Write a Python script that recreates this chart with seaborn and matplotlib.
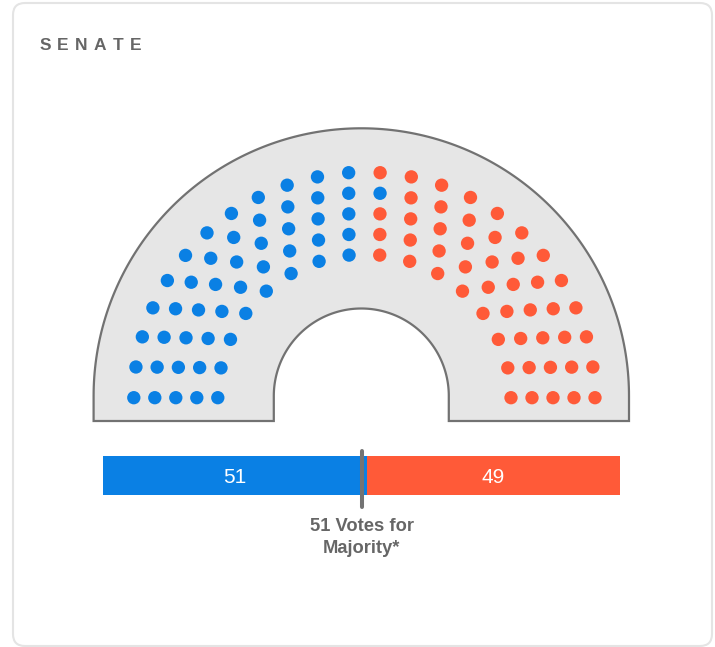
import numpy as np
import pandas as pd
import matplotlib
matplotlib.use('Agg')
import matplotlib.pyplot as plt
from matplotlib.path import Path
from matplotlib.patches import PathPatch, FancyBboxPatch
import seaborn as sns

# ---- data ----
title = 'SENATE'
parties = ['Democrats', 'Republicans']
seat_counts = [51, 49]
party_colors = ['#0a80e4', '#ff5a38']
row_sizes = [16, 18, 20, 22, 24]      # seats per arc row, inner -> outer
majority = 51
note_lines = [f'{majority} Votes for', 'Majority*']

sns.set_style('white')
plt.rcParams['font.family'] = ['Liberation Sans', 'DejaVu Sans']

W, H = 715, 647
fig = plt.figure(figsize=(W / 100, H / 100), dpi=100)
ax = fig.add_axes([0, 0, 1, 1])

# card frame
card = FancyBboxPatch((13, 3), 699, 643, boxstyle='round,pad=0,rounding_size=12',
                      fc='white', ec='#e4e4e4', lw=1.5, zorder=0)
ax.add_patch(card)

# hemicycle background
cx, cy, R_out, R_in, base = 361.3, 396, 267.7, 87.5, 421
t = np.linspace(np.pi, 0, 180)
outer = np.column_stack([cx + R_out * np.cos(t), cy - R_out * np.sin(t)])
inner = np.column_stack([cx + R_in * np.cos(t[::-1]), cy - R_in * np.sin(t[::-1])])
verts = ([(cx - R_out, base)] + outer.tolist() + [(cx + R_out, base), (cx + R_in, base)]
         + inner.tolist() + [(cx - R_in, base), (cx - R_out, base)])
ax.add_patch(PathPatch(Path(verts, closed=True), fc='#e6e6e6', ec='#727272',
                       lw=1.6, joinstyle='miter', zorder=1))

# seats: rows of arcs, filled left to right by angle
scx, scy, r0, dr, ky = 364.4, 397.7, 146.6, 21.0, 0.978
rows = []
for i, n in enumerate(row_sizes):
    r = r0 + dr * i
    for p in np.linspace(0, 180, n):
        rows.append((p, r))
df = pd.DataFrame(rows, columns=['phi', 'r'])
df['key'] = df['phi'].round()
df = df.sort_values(['key', 'r']).reset_index(drop=True)
df['party'] = np.repeat(parties, seat_counts)
df['x'] = scx - df['r'] * np.cos(np.radians(df['phi']))
df['y'] = scy - ky * df['r'] * np.sin(np.radians(df['phi']))

sns.scatterplot(data=df, x='x', y='y', hue='party', palette=dict(zip(parties, party_colors)),
                s=92, linewidth=0, legend=False, ax=ax, zorder=3)

ax.set_xlim(0, W)
ax.set_ylim(H, 0)
ax.axis('off')

# title with letter spacing
renderer = fig.canvas.get_renderer()
x = 39.3
for ch in title:
    tx = ax.text(x, 49.7, ch, fontsize=12.5, fontweight='bold', color='#666666',
                 ha='left', va='baseline')
    x += tx.get_window_extent(renderer).width + 6.3

# seat bar
total = sum(seat_counts)
bx = fig.add_axes([103 / W, 1 - 495 / H, 517 / W, 39 / H])
lefts = np.cumsum([0] + seat_counts[:-1])
bx.barh(0, seat_counts, left=lefts, color=party_colors, height=1, linewidth=0)
for l, c in zip(lefts, seat_counts):
    bx.text(l + c / 2, 0, str(c), ha='center', va='center_baseline',
            color='white', fontsize=15)
bx.axvline(total / 2, ymin=-12 / 39, ymax=1 + 5 / 39, color='#737373', lw=2.9, clip_on=False)
bx.set_xlim(0, total)
bx.set_ylim(-0.5, 0.5)
bx.axis('off')

for yb, line in zip([531, 553], note_lines):
    ax.text(361.5, yb, line, ha='center', va='baseline', fontsize=13.2,
            fontweight='bold', color='#666666')

fig.savefig('out.png', dpi=100)
